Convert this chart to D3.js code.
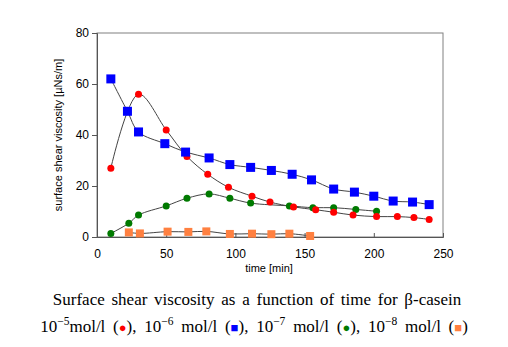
<!DOCTYPE html>
<html><head><meta charset="utf-8">
<script src="https://cdn.jsdelivr.net/npm/d3@7/dist/d3.min.js"></script>
<style>body{margin:0;background:#fff}svg{display:block}</style>
</head><body>
<svg id="c" width="508" height="347"></svg>
<script>
// data (time in min, viscosity in µNs/m)
const t5 = [10,30,50,65,80,95,112,125,142,158,171,185,202,217,229,240];
const v5 = [27,56,42,31.6,24.6,19.5,16,13.7,11.8,10.7,9.7,8.6,8.0,8.0,7.6,6.9];
const t6 = [10,22,30,49,64,81,96,111,126,141,155,171,186,200,214,228,240];
const v6 = [62,49.3,41.2,36.6,33.3,31,28.4,27.3,26.1,24.6,22.4,18.8,17.6,16,14.1,13.7,12.7];
const t7 = [10,23,30,50,65,81,96,111,139,156,171,187,202];
const v7 = [1.4,5.4,8.6,12.2,15.2,16.9,15.2,13.3,12.2,11.5,11.5,10.8,10.1];
const t8 = [23,31,51,66,79,96,112,126,139,154];
const v8 = [1.8,1.4,2.1,2.0,2.2,1.2,1.3,1.1,1.3,0.4];
const xTicks = [0,50,100,150,200,250];
const yTicks = [0,20,40,60,80];
const colors = {c5:"#ff0000", c6:"#0000ff", c7:"#007a00", c8:"#ff8040"};

const svg = d3.select("#c");
const x = d3.scaleLinear().domain([0,250]).range([97,443]);
const y = d3.scaleLinear().domain([0,80]).range([237,33]);

// frame
svg.append("rect").attr("x",97).attr("y",33).attr("width",346).attr("height",204)
  .attr("fill","none").attr("stroke","#808080").attr("stroke-width",1);

const xAx = svg.append("g").attr("transform","translate(0,237)")
  .call(d3.axisBottom(x).tickValues(xTicks).tickSize(-4).tickPadding(12.5).tickFormat(d3.format("d")));
const yAx = svg.append("g").attr("transform","translate(97,0)")
  .call(d3.axisLeft(y).tickValues(yTicks).tickSize(5).tickPadding(3));
[xAx,yAx].forEach(g=>{
  g.select(".domain").attr("stroke","#555");
  g.selectAll(".tick line").attr("stroke","#555");
  g.selectAll("text").attr("font-family","Liberation Sans, Arial, sans-serif").attr("font-size",12).attr("fill","#000");
});

svg.append("text").attr("x",269).attr("y",272).attr("text-anchor","middle")
  .attr("font-family","Liberation Sans, Arial, sans-serif").attr("font-size",11).text("time [min]");
svg.append("text").attr("transform","translate(62,135) rotate(-90)").attr("text-anchor","middle")
  .attr("font-family","Liberation Sans, Arial, sans-serif").attr("font-size",11)
  .text("surface shear viscosity [\u00b5Ns/m]");

const line = d3.line().x(d=>x(d[0])).y(d=>y(d[1])).curve(d3.curveCatmullRom.alpha(0.5));
const series = [
  {t:t8,v:v8,c:colors.c8,shape:"sq",s:8},
  {t:t7,v:v7,c:colors.c7,shape:"ci",s:7},
  {t:t5,v:v5,c:colors.c5,shape:"ci",s:7},
  {t:t6,v:v6,c:colors.c6,shape:"sq",s:9}
];
series.forEach(se=>{
  const pts = se.t.map((t,i)=>[t,se.v[i]]);
  svg.append("path").attr("d",line(pts)).attr("fill","none").attr("stroke","#444").attr("stroke-width",1);
});
series.forEach(se=>{
  const pts = se.t.map((t,i)=>[t,se.v[i]]);
  const g = svg.append("g");
  if(se.shape==="sq"){
    g.selectAll("rect").data(pts).join("rect")
      .attr("x",d=>x(d[0])-se.s/2).attr("y",d=>y(d[1])-se.s/2)
      .attr("width",se.s).attr("height",se.s).attr("fill",se.c);
  } else {
    g.selectAll("circle").data(pts).join("circle")
      .attr("cx",d=>x(d[0])).attr("cy",d=>y(d[1])).attr("r",se.s/2).attr("fill",se.c);
  }
});

// caption
const serif = "Liberation Serif, Times New Roman, serif";
svg.append("text").attr("x",257).attr("y",305).attr("text-anchor","middle")
  .attr("font-family",serif).attr("font-size",17).attr("word-spacing","2.5px")
  .text("Surface shear viscosity as a function of time for \u03b2-casein");

const cap = svg.append("text").attr("x",254).attr("y",332).attr("text-anchor","middle")
  .attr("font-family",serif).attr("font-size",17).attr("word-spacing","3.5px");
const exps = ["\u22125","\u22126","\u22127","\u22128"];
const marks = [["\u25cf",colors.c5],["\u25a0",colors.c6],["\u25cf",colors.c7],["\u25a0",colors.c8]];
exps.forEach((e,i)=>{
  cap.append("tspan").text((i>0?", ":"")+"10");
  cap.append("tspan").attr("font-size",11.5).attr("dy",-7).text(e);
  cap.append("tspan").attr("dy",7).text((i===0?"":" ")+"mol/l (");
  cap.append("tspan").attr("fill",marks[i][1]).attr("font-size",13).text(marks[i][0]);
  cap.append("tspan").text(")");
});
</script>
</body></html>
